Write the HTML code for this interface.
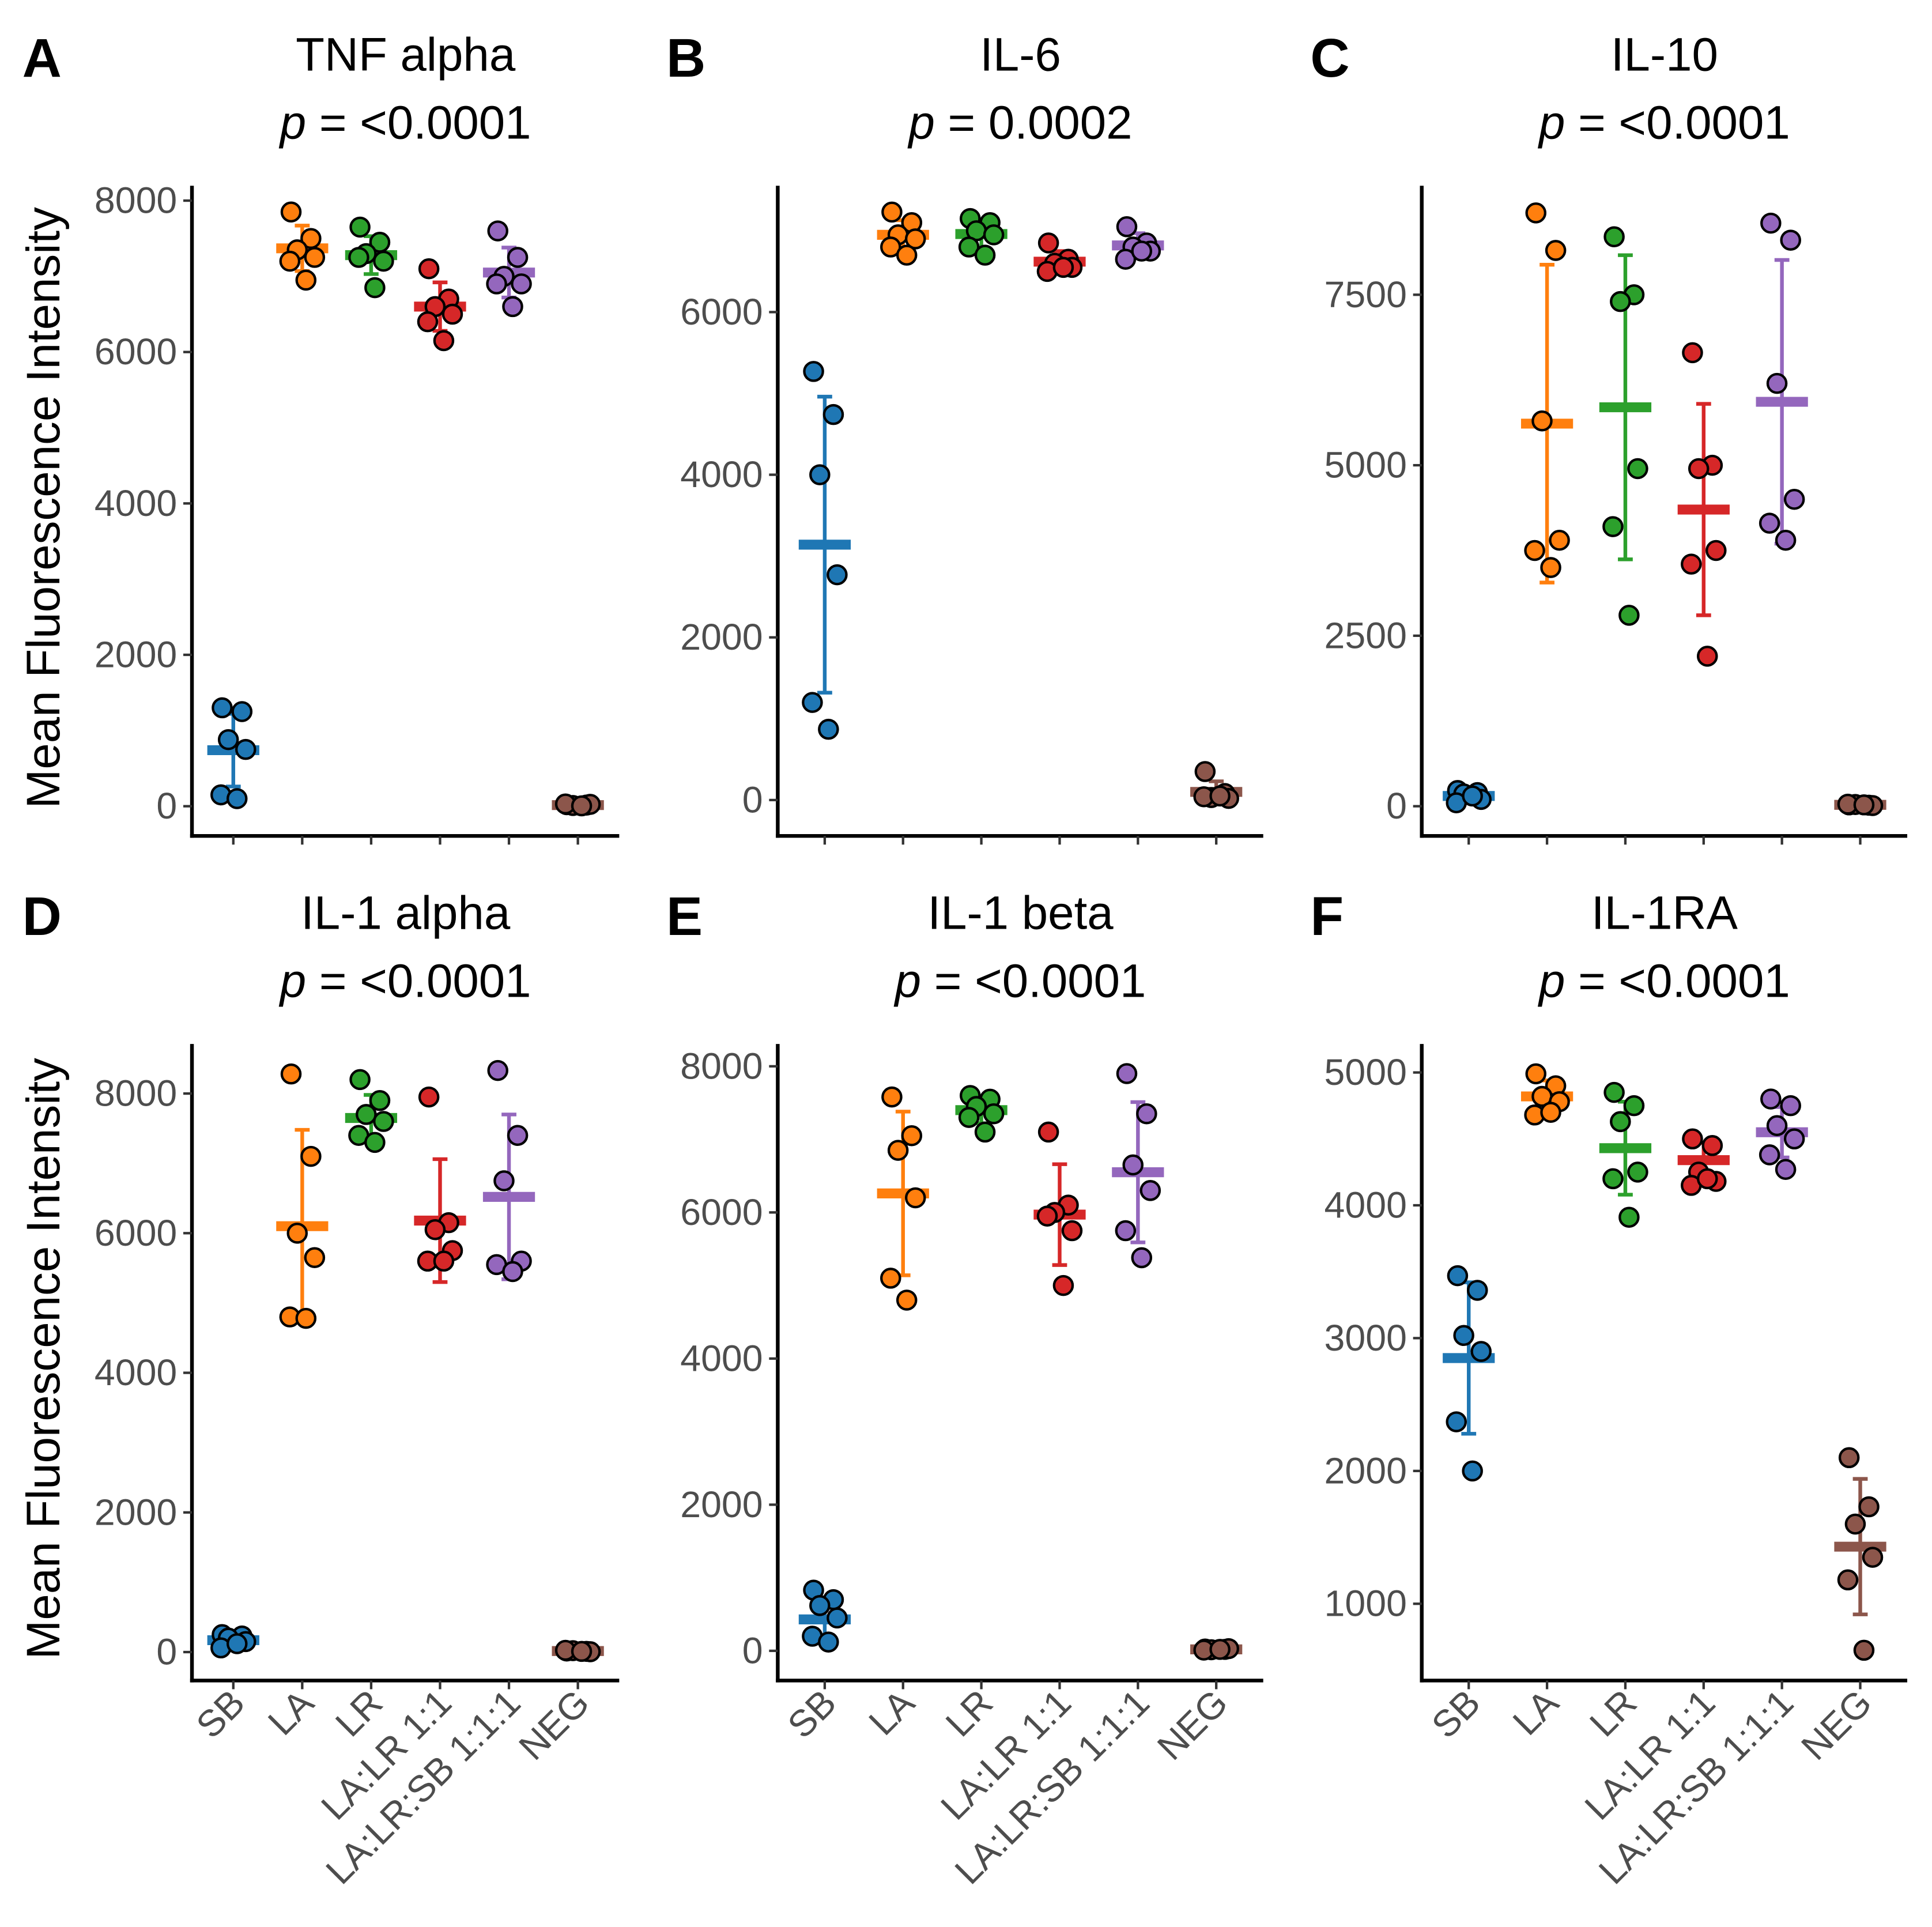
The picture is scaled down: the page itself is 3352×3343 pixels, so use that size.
<!DOCTYPE html>
<html><head><meta charset="utf-8"><style>
html,body{margin:0;padding:0;background:#fff;}
svg{display:block;}
text{font-family:"Liberation Sans",Arial,sans-serif;}
</style></head><body>
<svg id="fig" xmlns="http://www.w3.org/2000/svg" width="3352" height="3343" viewBox="0 0 1560 1556" preserveAspectRatio="none"></svg>
<script>
const categories = ["SB","LA","LR","LA:LR 1:1","LA:LR:SB 1:1:1","NEG"];
const colors = ["#1f77b4","#ff7f0e","#2ca02c","#d62728","#9467bd","#8c564b"];
const titles = ["TNF alpha","IL-6","IL-10","IL-1 alpha","IL-1 beta","IL-1RA"];
const pvalues = ["<0.0001","0.0002","<0.0001","<0.0001","<0.0001","<0.0001"];
const letters = ["A","B","C","D","E","F"];
const ticksA = [0,2000,4000,6000,8000];
const ticksB = [0,2000,4000,6000];
const ticksC = [0,2500,5000,7500];
const ticksD = [0,2000,4000,6000,8000];
const ticksE = [0,2000,4000,6000,8000];
const ticksF = [1000,2000,3000,4000,5000];
const pointsA = [[1300,1250,880,750,150,100],[7850,7500,7350,7250,7200,6950],[7650,7450,7300,7200,7250,6850],[7100,6700,6600,6500,6400,6150],[7600,7250,7000,6900,6900,6600],[20,15,10,25,30,5]];
const meansA = [740,7370,7280,6600,7050,15];
const sdA = [480,300,250,320,330,10];
const pointsB = [[5270,4740,4000,2770,1200,870],[7230,7100,6950,6900,6800,6700],[7150,7100,7000,6950,6800,6700],[6850,6650,6600,6550,6500,6550],[7050,6850,6800,6750,6650,6750],[350,80,30,20,40,50]];
const meansB = [3140,6950,6960,6620,6820,100];
const sdB = [1820,180,170,130,150,130];
const pointsC = [[230,200,180,100,50,150],[8700,8150,5650,3900,3750,3500],[8350,7500,7400,4950,4100,2800],[6650,5000,4950,3750,3550,2200],[8550,8300,6200,4500,4150,3900],[20,15,25,10,30,20]];
const meansC = [150,5610,5850,4350,5930,20];
const sdC = [70,2330,2230,1550,2080,10];
const pointsD = [[250,230,200,150,60,120],[8280,7100,6000,5650,4800,4780],[8200,7900,7700,7600,7400,7300],[7950,6150,6050,5750,5600,5600],[8330,7400,6750,5600,5550,5450],[15,10,20,5,25,10]];
const meansD = [170,6100,7650,6180,6520,15];
const sdD = [80,1380,330,880,1180,8];
const pointsE = [[830,700,620,450,200,120],[7580,7050,6850,6200,5100,4800],[7600,7550,7450,7350,7300,7100],[7100,6100,6000,5750,5950,5000],[7900,7350,6650,6300,5750,5380],[25,20,15,30,10,20]];
const meansE = [430,6260,7400,5970,6550,20];
const sdE = [300,1120,180,690,960,8];
const pointsF = [[3470,3360,3020,2900,2370,2000],[4990,4900,4820,4780,4680,4700],[4850,4750,4630,4250,4200,3910],[4500,4450,4250,4180,4150,4200],[4800,4750,4600,4500,4380,4270],[2100,1730,1600,1350,1180,650]];
const meansF = [2850,4820,4430,4340,4550,1430];
const sdF = [570,120,350,130,190,510];

const panels = [
 {t:ticksA,p:pointsA,m:meansA,s:sdA,x0:155,x1:500,yTop:150,yBot:675,v0:0,py0:651,v1:8000,py1:162,ty:0,lx:18},
 {t:ticksB,p:pointsB,m:meansB,s:sdB,x0:628,x1:1020,yTop:150,yBot:675,v0:0,py0:646,v1:6000,py1:252,ty:0,lx:538},
 {t:ticksC,p:pointsC,m:meansC,s:sdC,x0:1148,x1:1540,yTop:150,yBot:675,v0:0,py0:651,v1:7500,py1:238,ty:0,lx:1058},
 {t:ticksD,p:pointsD,m:meansD,s:sdD,x0:155,x1:500,yTop:843,yBot:1357,v0:0,py0:1334,v1:8000,py1:883,ty:693,lx:18},
 {t:ticksE,p:pointsE,m:meansE,s:sdE,x0:628,x1:1020,yTop:843,yBot:1357,v0:0,py0:1333,v1:8000,py1:861,ty:693,lx:538},
 {t:ticksF,p:pointsF,m:meansF,s:sdF,x0:1148,x1:1540,yTop:843,yBot:1357,v0:1000,py0:1295,v1:5000,py1:866,ty:693,lx:1058}
];
const jit = [-9,7,-4,10,-10,3];
const NS="http://www.w3.org/2000/svg";
const svg=document.getElementById('fig');
function mk(tag,attrs,parent){const e=document.createElementNS(NS,tag);for(const k in attrs)e.setAttribute(k,attrs[k]);(parent||svg).appendChild(e);return e;}

panels.forEach((P,pi)=>{
  const g=mk('g',{});
  
  
  const band=(P.x1-P.x0)/6.2;
  const xs=i=>P.x0+band*(0.6+i);
  const ys=v=>P.py0+(v-P.v0)*(P.py1-P.py0)/(P.v1-P.v0);
  const cx=(P.x0+P.x1)/2;
  const L=mk('text',{x:P.lx,y:P.ty+62,'font-size':44,'font-weight':'bold',fill:'#000'},g);
  L.textContent=letters[pi];
  
  
  const T=mk('text',{x:cx,y:P.ty+57,'font-size':38,'text-anchor':'middle',fill:'#000'},g);
  T.textContent=titles[pi];
  
  
  const PV=mk('text',{x:cx,y:P.ty+112,'font-size':38,'text-anchor':'middle',fill:'#000'},g);
  PV.innerHTML='<tspan font-style="italic">p</tspan> = '+pvalues[pi].replace('<','&lt;');
  
  
  const ya=mk('line',{x1:P.x0,y1:P.yTop,x2:P.x0,y2:P.yBot+1.5,stroke:'#000','stroke-width':3},g);
  
  
  const xa=mk('line',{x1:P.x0-1.5,y1:P.yBot,x2:P.x1,y2:P.yBot,stroke:'#000','stroke-width':3},g);
  
  
  P.t.forEach(v=>{
    const y=ys(v);
    mk('line',{x1:P.x0-7,y1:y,x2:P.x0,y2:y,stroke:'#333','stroke-width':2},g);
    const tl=mk('text',{x:P.x0-12,y:y+10,'font-size':30,'text-anchor':'end',fill:'#4d4d4d'},g);
    tl.textContent=v;
    
    
  });
  categories.forEach((c,i)=>{
    const x=xs(i);
    mk('line',{x1:x,y1:P.yBot,x2:x,y2:P.yBot+7,stroke:'#333','stroke-width':2},g);
    if(pi>=3){
      const tl=mk('text',{x:0,y:0,'font-size':30,'text-anchor':'end',fill:'#4d4d4d',transform:`translate(${x+11},${P.yBot+20}) rotate(-45)`},g);
      tl.textContent=c;
      
      
    }
    const col=colors[i], m=P.m[i], s=P.s[i];
    const eb=mk('g',{},g);
    
    
    mk('line',{x1:x,y1:ys(m-s),x2:x,y2:ys(m+s),stroke:col,'stroke-width':3},eb);
    mk('line',{x1:x-6,y1:ys(m-s),x2:x+6,y2:ys(m-s),stroke:col,'stroke-width':3},eb);
    mk('line',{x1:x-6,y1:ys(m+s),x2:x+6,y2:ys(m+s),stroke:col,'stroke-width':3},eb);
    const mb=mk('line',{x1:x-21,y1:ys(m),x2:x+21,y2:ys(m),stroke:col,'stroke-width':8},g);
    
    
    P.p[i].forEach((v,k)=>{
      const pt=mk('circle',{cx:x+jit[k],cy:ys(v),r:7.5,fill:col,stroke:'#000','stroke-width':2},g);
      
      
    });
  });
});
[[410],[1097]].forEach((a,i)=>{
  const t=mk('text',{x:0,y:0,'font-size':38,'text-anchor':'middle',fill:'#000',transform:`translate(48,${a[0]}) rotate(-90)`});
  t.textContent='Mean Fluorescence Intensity';
  
  
});
</script>
</body></html>
